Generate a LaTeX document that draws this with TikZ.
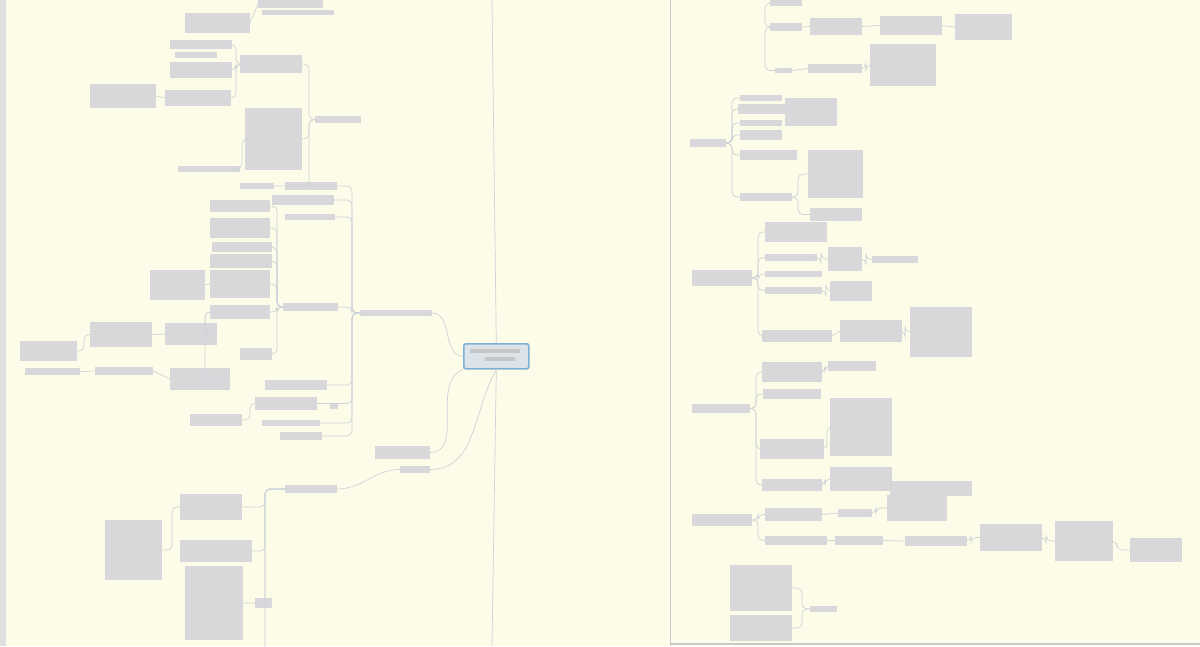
\documentclass[tikz,border=0pt]{standalone}
\usepackage{xcolor}
\usepackage{tikz}

\definecolor{paper}{HTML}{FCFCE9}
\definecolor{txtgray}{HTML}{D8D8DB}
\definecolor{linkgray}{HTML}{CDD3D8}
\definecolor{rootblue}{HTML}{7FB0D6}
\definecolor{rootfill}{HTML}{DCE4EA}
\definecolor{edgegray}{HTML}{C9C9C9}

\begin{document}
\begin{tikzpicture}[x=1pt,y=-1pt]
\tikzstyle{blur} = [fill=txtgray, inner sep=0, outer sep=0, anchor=north west]
\tikzstyle{topic} = [draw=rootblue, line width=1.6, fill=rootfill, rounded corners=2, inner sep=0, anchor=north west]
\tikzstyle{link} = [draw=linkgray, line width=0.7, rounded corners=5]
\tikzset{sz/.style 2 args={minimum width=#1pt, minimum height=#2pt}}

\fill[paper] (0,0) rectangle (1200,646);
\useasboundingbox (0,0) rectangle (1200,646);
\fill[edgegray!60] (0,0) rectangle (6,646);
\coordinate (divtop) at (670,0);
\coordinate (divbot) at (670,646);
\draw[edgegray, line width=1] (divtop) -- (divbot);
\coordinate (bl) at (670,644);
\coordinate (br) at (1200,644);
\draw[edgegray, line width=1.5] (bl) -- (br);

% central topic
\node(root)[topic, sz={65}{25}] at (463,343) {};
\node(rt1)[blur, sz={50}{4}, fill=gray!45] at (470,349) {};
\node(rt2)[blur, sz={30}{4}, fill=gray!45] at (485,357) {};
\coordinate (up) at (492,0);
\coordinate (down) at (492,646);
\draw [link] (root.north) -- (up);
\draw [link] (root.south) -- (down);

% left main branches
\node(l1)[blur, sz={72}{6}] at (360,310) {};
\node(l2)[blur, sz={55}{13}] at (375,446) {};
\node(l3)[blur, sz={30}{7}] at (400,466) {};
\draw [link] (root.west) to[out=180,in=0] (l1.east);
\draw [link] (root.south west) to[out=200,in=0] (l2.east);
\draw [link] (root.south) to[out=240,in=0] (l3.east);

% children of l1
\node(a1)[blur, sz={52}{8}] at (285,182) {};
\node(a2)[blur, sz={62}{10}] at (272,195) {};
\node(a3)[blur, sz={50}{6}] at (285,214) {};
\node(a4)[blur, sz={55}{8}] at (283,303) {};
\node(a5)[blur, sz={62}{10}] at (265,380) {};
\node(a6)[blur, sz={62}{13}] at (255,397) {};
\node(a7)[blur, sz={58}{6}] at (262,420) {};
\node(a8)[blur, sz={42}{8}] at (280,432) {};
\node(a9)[blur, sz={8}{5}] at (330,404) {};
\foreach \c in {a1,a2,a3,a4,a5,a6,a7,a8}
  \draw [link] (l1.west) -- ++(-8,0) |- (\c.east);

% grandchildren on the left
\node(b1)[blur, sz={60}{12}] at (210,200) {};
\node(b2)[blur, sz={60}{20}] at (210,218) {};
\node(b3)[blur, sz={60}{10}] at (212,242) {};
\node(b4)[blur, sz={62}{14}] at (210,254) {};
\node(b5)[blur, sz={60}{28}] at (210,270) {};
\node(b6)[blur, sz={55}{30}] at (150,270) {};
\node(b7)[blur, sz={60}{14}] at (210,305) {};
\node(b8)[blur, sz={52}{22}] at (165,323) {};
\node(b9)[blur, sz={62}{25}] at (90,322) {};
\node(b10)[blur, sz={57}{20}] at (20,341) {};
\node(b11)[blur, sz={55}{7}] at (25,368) {};
\node(b12)[blur, sz={58}{8}] at (95,367) {};
\node(b13)[blur, sz={60}{22}] at (170,368) {};
\node(b14)[blur, sz={32}{12}] at (240,348) {};
\node(b15)[blur, sz={52}{12}] at (190,414) {};
\foreach \c in {b1,b2,b3,b4,b5,b7,b14}
  \draw [link] (a4.west) -- ++(-6,0) |- (\c.east);
\draw [link] (b5.west) -- (b6.east);
\draw [link] (b7.west) -- ++(-5,0) |- (b8.east);
\draw [link] (b7.west) -- ++(-5,0) |- (b13.east);
\draw [link] (b8.west) -- (b9.east);
\draw [link] (b13.west) -- (b12.east);
\draw [link] (b9.west) -- ++(-6,0) |- (b10.east);
\draw [link] (b12.west) -- (b11.east);
\draw [link] (a6.west) -- ++(-5,0) |- (b15.east);

% top left cluster
\node(c1)[blur, sz={65}{20}] at (185,13) {};
\node(c2)[blur, sz={65}{8}] at (258,0) {};
\node(c3)[blur, sz={72}{5}] at (262,10) {};
\node(c4)[blur, sz={62}{9}] at (170,40) {};
\node(c5)[blur, sz={42}{6}] at (175,52) {};
\node(c6)[blur, sz={62}{16}] at (170,62) {};
\node(c7)[blur, sz={62}{18}] at (240,55) {};
\node(c8)[blur, sz={66}{24}] at (90,84) {};
\node(c9)[blur, sz={66}{16}] at (165,90) {};
\node(c10)[blur, sz={57}{62}] at (245,108) {};
\node(c11)[blur, sz={46}{7}] at (315,116) {};
\node(c12)[blur, sz={62}{6}] at (178,166) {};
\node(c13)[blur, sz={34}{6}] at (240,183) {};
\draw [link] (c11.west) -- ++(-6,0) |- (c7.east);
\draw [link] (c11.west) -- ++(-6,0) |- (c10.east);
\draw [link] (c11.west) -- ++(-6,0) |- (c13.east);
\draw [link] (c7.west) -- ++(-4,0) |- (c4.east);
\draw [link] (c7.west) -- ++(-4,0) |- (c6.east);
\draw [link] (c7.west) -- ++(-4,0) |- (c9.east);
\draw [link] (c10.west) -- ++(-3,0) |- (c12.east);
\draw [link] (c9.west) -- (c8.east);
\draw [link] (c2.west) -- (c1.east);

% bottom left cluster
\node(d1)[blur, sz={52}{8}] at (285,485) {};
\node(d2)[blur, sz={62}{26}] at (180,494) {};
\node(d3)[blur, sz={57}{60}] at (105,520) {};
\node(d4)[blur, sz={72}{22}] at (180,540) {};
\node(d5)[blur, sz={58}{74}] at (185,566) {};
\node(d6)[blur, sz={17}{10}] at (255,598) {};
\draw [link] (l3.west) to[out=180,in=0] (d1.east);
\foreach \c in {d2,d4,d5}
  \draw [link] (d1.west) -- ++(-20,0) |- (\c.east);
\draw [link] (d1.west) -- ++(-20,0) -- ++(0,160);
\draw [link] (d2.west) -- ++(-8,0) |- (d3.east);

% right pane, top
\node(e1)[blur, sz={32}{6}] at (770,0) {};
\node(e2)[blur, sz={32}{8}] at (770,23) {};
\node(e3)[blur, sz={52}{17}] at (810,18) {};
\node(e4)[blur, sz={62}{19}] at (880,16) {};
\node(e5)[blur, sz={57}{26}] at (955,14) {};
\node(e6)[blur, sz={17}{5}] at (775,68) {};
\node(e7)[blur, sz={54}{9}] at (808,64) {};
\node(e8)[blur, sz={66}{42}] at (870,44) {};
\draw [link] (e2.east) -- (e3.west);
\draw [link] (e3.east) -- (e4.west);
\draw [link] (e4.east) -- (e5.west);
\draw [link] (e6.east) -- (e7.west);
\draw [link] (e7.east) -- ++(4,0) |- (e8.west);
\draw [link] (e2.west) -- ++(-5,0) |- (e1.west);
\draw [link] (e2.west) -- ++(-5,0) |- (e6.west);

% right group 1
\node(r1)[blur, sz={36}{8}] at (690,139) {};
\node(f1)[blur, sz={42}{6}] at (740,95) {};
\node(f2)[blur, sz={52}{10}] at (738,104) {};
\node(f3)[blur, sz={42}{6}] at (740,120) {};
\node(f4)[blur, sz={52}{28}] at (785,98) {};
\node(f5)[blur, sz={42}{10}] at (740,130) {};
\node(f6)[blur, sz={57}{10}] at (740,150) {};
\node(f7)[blur, sz={52}{8}] at (740,193) {};
\node(g1)[blur, sz={55}{48}] at (808,150) {};
\node(g2)[blur, sz={52}{13}] at (810,208) {};
\foreach \c in {f1,f2,f3,f5,f6,f7}
  \draw [link] (r1.east) -- ++(6,0) |- (\c.west);
\draw [link] (f2.east) -- (f4.west);
\draw [link] (f7.east) -- ++(6,0) |- (g1.west);
\draw [link] (f7.east) -- ++(6,0) |- (g2.west);

% right group 2
\node(r2)[blur, sz={60}{16}] at (692,270) {};
\node(h1)[blur, sz={62}{20}] at (765,222) {};
\node(h2)[blur, sz={52}{7}] at (765,254) {};
\node(h3)[blur, sz={57}{6}] at (765,271) {};
\node(h4)[blur, sz={57}{7}] at (765,287) {};
\node(h5)[blur, sz={70}{12}] at (762,330) {};
\node(i1)[blur, sz={34}{24}] at (828,247) {};
\node(i2)[blur, sz={42}{20}] at (830,281) {};
\node(i3)[blur, sz={46}{7}] at (872,256) {};
\node(i4)[blur, sz={62}{22}] at (840,320) {};
\node(i5)[blur, sz={62}{50}] at (910,307) {};
\foreach \c in {h1,h2,h3,h4,h5}
  \draw [link] (r2.east) -- ++(6,0) |- (\c.west);
\draw [link] (h2.east) -- ++(4,0) |- (i1.west);
\draw [link] (h4.east) -- ++(4,0) |- (i2.west);
\draw [link] (i1.east) -- ++(4,0) |- (i3.west);
\draw [link] (h5.east) -- (i4.west);
\draw [link] (i4.east) -- ++(3,0) |- (i5.west);

% right group 3
\node(r3)[blur, sz={58}{9}] at (692,404) {};
\node(j1)[blur, sz={60}{20}] at (762,362) {};
\node(j2)[blur, sz={58}{10}] at (763,389) {};
\node(j3)[blur, sz={64}{20}] at (760,439) {};
\node(j4)[blur, sz={60}{12}] at (762,479) {};
\node(k1)[blur, sz={48}{10}] at (828,361) {};
\node(k2)[blur, sz={62}{58}] at (830,398) {};
\node(k3)[blur, sz={62}{24}] at (830,467) {};
\node(k4)[blur, sz={82}{15}] at (890,481) {};
\foreach \c in {j1,j2,j3,j4}
  \draw [link] (r3.east) -- ++(6,0) |- (\c.west);
\draw [link] (j1.east) -- ++(3,0) |- (k1.west);
\draw [link] (j3.east) -- ++(3,0) |- (k2.west);
\draw [link] (j4.east) -- ++(3,0) |- (k3.west);
\draw [link] (k3.east) -- (k4.west);

% right group 4
\node(r4)[blur, sz={60}{12}] at (692,514) {};
\node(m1)[blur, sz={57}{13}] at (765,508) {};
\node(m2)[blur, sz={62}{9}] at (765,536) {};
\node(n1)[blur, sz={34}{8}] at (838,509) {};
\node(n2)[blur, sz={48}{9}] at (835,536) {};
\node(n3)[blur, sz={60}{26}] at (887,495) {};
\node(n4)[blur, sz={62}{10}] at (905,536) {};
\node(n5)[blur, sz={62}{27}] at (980,524) {};
\node(n6)[blur, sz={58}{40}] at (1055,521) {};
\node(n7)[blur, sz={52}{24}] at (1130,538) {};
\foreach \c in {m1,m2}
  \draw [link] (r4.east) -- ++(6,0) |- (\c.west);
\draw [link] (m1.east) -- (n1.west);
\draw [link] (m2.east) -- (n2.west);
\draw [link] (n1.east) -- ++(4,0) |- (n3.west);
\draw [link] (n2.east) -- (n4.west);
\draw [link] (n4.east) -- ++(4,0) |- (n5.west);
\draw [link] (n5.east) -- ++(4,0) |- (n6.west);
\draw [link] (n6.east) -- ++(4,0) |- (n7.west);

% right pane, bottom
\node(p1)[blur, sz={62}{46}] at (730,565) {};
\node(p2)[blur, sz={27}{6}] at (810,606) {};
\node(p3)[blur, sz={62}{26}] at (730,615) {};
\draw [link] (p2.west) -- ++(-8,0) |- (p1.east);
\draw [link] (p2.west) -- ++(-8,0) |- (p3.east);
\end{tikzpicture}
\end{document}
